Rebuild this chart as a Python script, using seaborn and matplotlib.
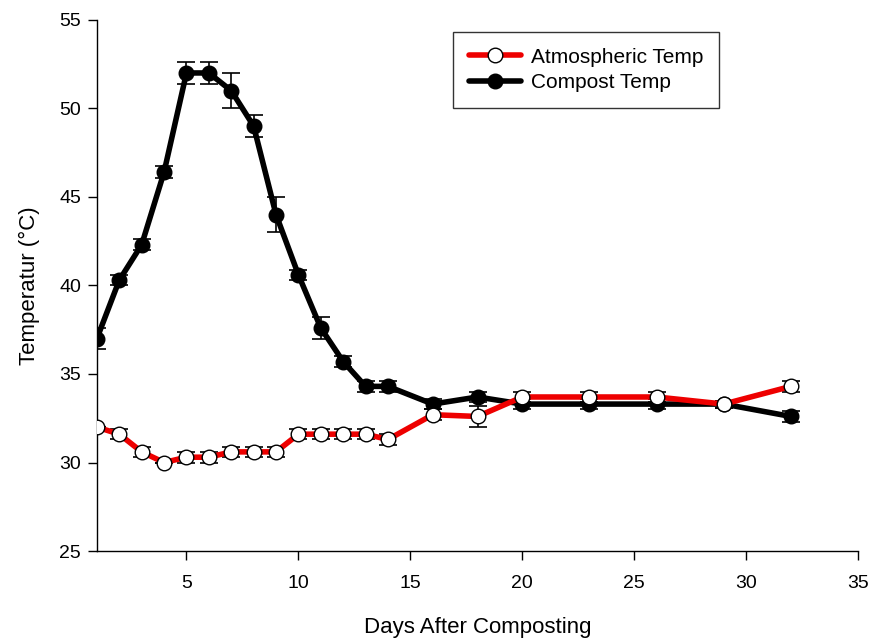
import matplotlib as mpl

mpl.use('Agg')
import matplotlib.pyplot as plt
import numpy as np
import pandas as pd
import seaborn as sns

sns.set_theme(style='white')
plt.rcParams['font.family'] = ['Liberation Sans', 'DejaVu Sans']
plt.rcParams['text.color'] = 'black'
plt.rcParams['axes.labelcolor'] = 'black'
plt.rcParams['xtick.color'] = 'black'
plt.rcParams['ytick.color'] = 'black'

#### data ####
days = [1, 2, 3, 4, 5, 6, 7, 8, 9, 10, 11, 12, 13, 14, 16, 18, 20, 23, 26, 29, 32]
atmos_temp = [32.0, 31.6, 30.6, 30.0, 30.3, 30.3, 30.6, 30.6, 30.6, 31.6, 31.6,
              31.6, 31.6, 31.3, 32.7, 32.6, 33.7, 33.7, 33.7, 33.3, 34.3]
atmos_err = [0.0, 0.3, 0.3, 0.0, 0.3, 0.3, 0.3, 0.3, 0.3, 0.3, 0.3,
             0.3, 0.3, 0.3, 0.3, 0.6, 0.3, 0.3, 0.3, 0.2, 0.3]
compost_temp = [37.0, 40.3, 42.3, 46.4, 52.0, 52.0, 51.0, 49.0, 44.0, 40.6, 37.6,
                35.7, 34.3, 34.3, 33.3, 33.7, 33.3, 33.3, 33.3, 33.3, 32.6]
compost_err = [0.6, 0.3, 0.3, 0.35, 0.6, 0.6, 1.0, 0.6, 1.0, 0.3, 0.6,
               0.3, 0.3, 0.3, 0.3, 0.3, 0.3, 0.3, 0.3, 0.2, 0.3]
series_names = ['Atmospheric Temp', 'Compost Temp']
x_ticks = [5, 10, 15, 20, 25, 30, 35]
y_ticks = [25, 30, 35, 40, 45, 50, 55]

df = pd.DataFrame({
    'day': days * 2,
    'temp': atmos_temp + compost_temp,
    'err': atmos_err + compost_err,
    'series': [series_names[0]] * len(days) + [series_names[1]] * len(days),
})

fig = plt.figure(figsize=(8.73, 6.4), dpi=100)
ax = fig.add_axes([0.111, 0.139, 0.872, 0.830])

styles = {
    'Compost Temp': dict(color='black', mfc='black', z=3),
    'Atmospheric Temp': dict(color='#ee0000', mfc='white', z=4),
}

for name in ['Compost Temp', 'Atmospheric Temp']:
    sub = df[df['series'] == name]
    st = styles[name]
    ax.errorbar(sub['day'], sub['temp'], yerr=sub['err'], fmt='none',
                ecolor='black', elinewidth=1.2, capsize=6.5, capthick=1.2,
                zorder=st['z'] - 0.5)
    sns.lineplot(data=sub, x='day', y='temp', ax=ax, color=st['color'],
                 lw=4, marker='o', markersize=10.5, markerfacecolor=st['mfc'],
                 markeredgecolor='black', markeredgewidth=1.0,
                 label=name, zorder=st['z'], legend=False)

ax.set_xlim(1, 35)
ax.set_ylim(25, 55)
ax.set_xticks(x_ticks)
ax.set_yticks(y_ticks)
ax.tick_params(axis='both', direction='out', length=6.5, width=1, labelsize=14,
               bottom=True, left=True, color='black')
ax.tick_params(axis='x', pad=11)
ax.tick_params(axis='y', pad=5)
ax.spines['right'].set_color('none')
ax.spines['top'].set_color('none')
for s in ['left', 'bottom']:
    ax.spines[s].set_color('black')
    ax.spines[s].set_linewidth(1)

ax.set_xlabel('Days After Composting', fontsize=16, labelpad=18)
ax.set_ylabel('Temperatur (°C)', fontsize=16, labelpad=14)

# legend設置
handles, labels = ax.get_legend_handles_labels()
order = [labels.index(n) for n in series_names]
leg = ax.legend([handles[i] for i in order], [labels[i] for i in order],
                loc='upper left', bbox_to_anchor=(0.468, 0.977), fontsize=15,
                frameon=True, fancybox=False, edgecolor='black',
                borderpad=0.75, handlelength=2.5, handletextpad=0.5,
                labelspacing=0.3, borderaxespad=0)
leg.get_frame().set_linewidth(1)

fig.savefig('out.png', dpi=100)
